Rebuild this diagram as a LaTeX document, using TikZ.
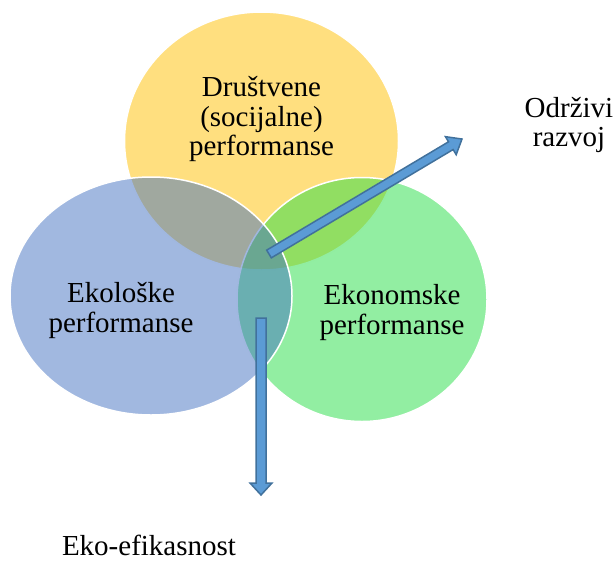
\documentclass[tikz,border=0pt]{standalone}
\usepackage{fontspec}
\setmainfont{Liberation Serif}
\usetikzlibrary{calc}
\definecolor{yel}{HTML}{FFC000}
\definecolor{blu}{HTML}{4371C1}
\definecolor{grn}{HTML}{25DD45}
\definecolor{arrfill}{HTML}{5B9BD5}
\definecolor{arrdraw}{HTML}{41719C}
\begin{document}
\begin{tikzpicture}[x=1pt,y=-1pt,
  venn/.style={draw=white, line width=1.5pt, fill opacity=0.5},
  lbl/.style={font=\fontsize{29}{29.5}\selectfont, align=center, inner sep=0pt, text=black},
  barrow/.style={fill=arrfill, draw=arrdraw, line width=1.5pt, line join=miter}]
\useasboundingbox (0,0) rectangle (615,562);
% circles
\path[venn, fill=yel] (261.5,141) ellipse [x radius=137, y radius=129];
\path[venn, fill=grn] (362,299.5) ellipse [x radius=125, y radius=122];
\path[venn, fill=blu] (151,296) ellipse [x radius=141, y radius=119];
% labels
\node[lbl] (soc) at (261.5,119) {Društvene\\(socijalne)\\performanse};
\node[lbl] (eko) at (121,310.5) {Ekološke\\performanse};
\node[lbl] (ekon) at (392,312.5) {Ekonomske\\performanse};
\node[lbl] (odr) at (569,125) {Održivi\\razvoj};
\node[lbl, anchor=base] (eef) at (149,555) {Eko-efikasnost};
% arrows
\coordinate (a1s) at (269,254);
\coordinate (a1e) at (462,139);
\coordinate (a2s) at (261,318);
\coordinate (a2e) at (261,495);
\draw[barrow] let \p1=(a1s), \p2=(a1e), \n1={atan2(\y2-\y1,\x2-\x1)}, \n2={veclen(\x2-\x1,\y2-\y1)} in
  [shift={(\p1)}, rotate=\n1] (0,-4.5) -- (\n2-13,-4.5) -- (\n2-13,-10.5) -- (\n2,0) -- (\n2-13,10.5) -- (\n2-13,4.5) -- (0,4.5) -- cycle;
\draw[barrow] let \p1=(a2s), \p2=(a2e), \n1={atan2(\y2-\y1,\x2-\x1)}, \n2={veclen(\x2-\x1,\y2-\y1)} in
  [shift={(\p1)}, rotate=\n1] (0,-5) -- (\n2-12,-5) -- (\n2-12,-11) -- (\n2,0) -- (\n2-12,11) -- (\n2-12,5) -- (0,5) -- cycle;
\end{tikzpicture}
\end{document}
